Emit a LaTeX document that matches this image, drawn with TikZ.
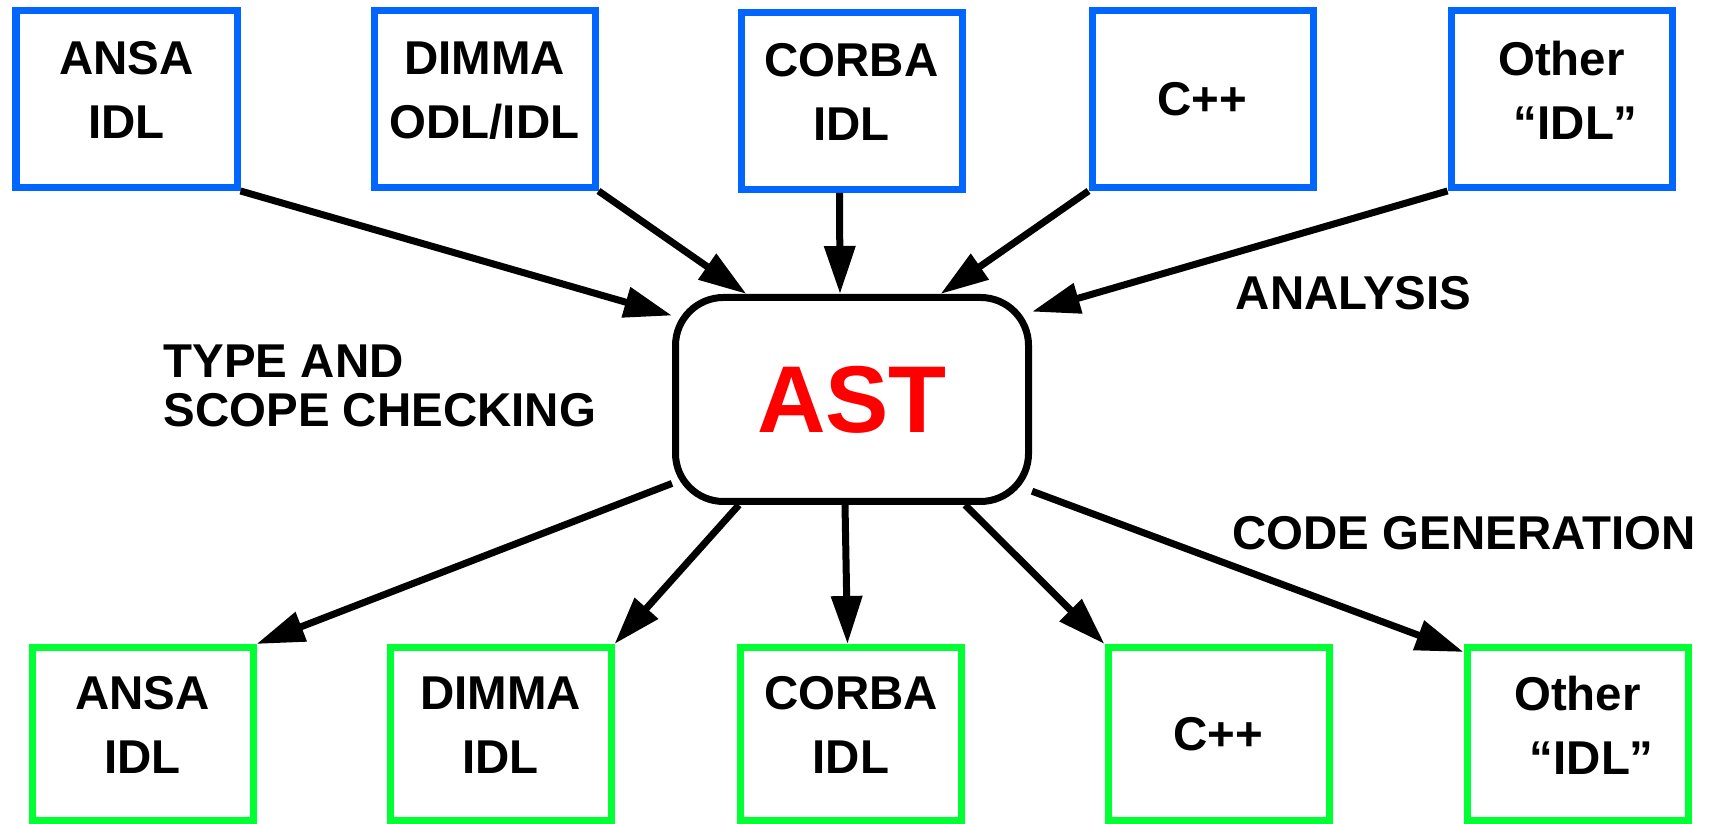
\documentclass[tikz,border=0pt]{standalone}
\usepackage{fontspec}
\setmainfont{Liberation Sans}
\usepackage{xcolor}
\usetikzlibrary{arrows.meta}
\definecolor{idlblue}{HTML}{0066FF}
\definecolor{idlgreen}{HTML}{00FF33}
\tikzset{
bigArrow/.style={line width=0.07cm, -{Triangle[length=0.48cm,width=0.30cm]}}}

\begin{document}
\begin{tikzpicture}
	\tikzset{inbox/.style = {shape=rectangle, draw=idlblue, line width=0.07cm, minimum width=2.21cm, minimum height=1.77cm, align=center, font=\fontsize{13.5}{18.2}\selectfont\bfseries}}
	\tikzset{outbox/.style = {inbox, draw=idlgreen, minimum height=1.73cm}}
	\tikzset{twoline/.style = {text depth=0.18cm}}
	\tikzset{phase/.style = {inner sep=0pt, align=left, font=\fontsize{13.5}{13.8}\selectfont\bfseries}}
	\tikzset{edge/.style = {bigArrow}}

	\useasboundingbox (0,0) rectangle (17.13,8.24);

	\node[inbox, twoline] (In_1) at (1.265,7.25) {ANSA\\IDL};
	\node[inbox, twoline] (In_2) at (4.845,7.25) {DIMMA\\ODL/IDL};
	\node[inbox, twoline] (In_3) at (8.515,7.23) {CORBA\\IDL};
	\node[inbox] (In_4) at (12.025,7.25) {C++};
	\node[inbox, twoline] (In_5) at (15.615,7.25) {Other\\\hspace*{0.6em}“IDL”};

	\node[draw, line width=0.07cm, rounded corners=0.48cm, minimum width=3.53cm, minimum height=2.04cm,
		text=red, font=\fontsize{27}{30}\selectfont\bfseries] (AST) at (8.52,4.245) {AST};

	\node[outbox, twoline] (Out_1) at (1.425,0.90) {ANSA\\IDL};
	\node[outbox, twoline] (Out_2) at (5.005,0.90) {DIMMA\\IDL};
	\node[outbox, twoline] (Out_3) at (8.51,0.90) {CORBA\\IDL};
	\node[outbox] (Out_4) at (12.185,0.90) {C++};
	\node[outbox, twoline] (Out_5) at (15.775,0.90) {Other\\\hspace*{0.6em}“IDL”};

	\draw[edge] (In_1.south east) to (AST.155);
	\draw[edge] (In_2.south east) to (AST.135);
	\draw[edge] ([xshift=-0.12cm]In_3.south) to ([xshift=-0.12cm]AST.north);
	\draw[edge] (In_4.south west) to (AST.50);
	\draw[edge] (In_5.south west) to (AST.26);

	\draw[edge] (AST.205) to (Out_1.north east);
	\draw[edge] (AST.223) to (Out_2.north east);
	\draw[edge] ([xshift=-0.07cm]AST.south) to ([xshift=-0.035cm]Out_3.north);
	\draw[edge] (AST.317) to (Out_4.north west);
	\draw[edge] (AST.333) to ([yshift=-0.08cm]Out_5.north west);

	\node[phase, anchor=west] (check) at (1.63,4.38) {TYPE AND\\SCOPE CHECKING};
	\node[phase] (analysis) at (13.535,5.31) {ANALYSIS};
	\node[phase] (codegen) at (14.64,2.91) {CODE GENERATION};
\end{tikzpicture}
\end{document}
